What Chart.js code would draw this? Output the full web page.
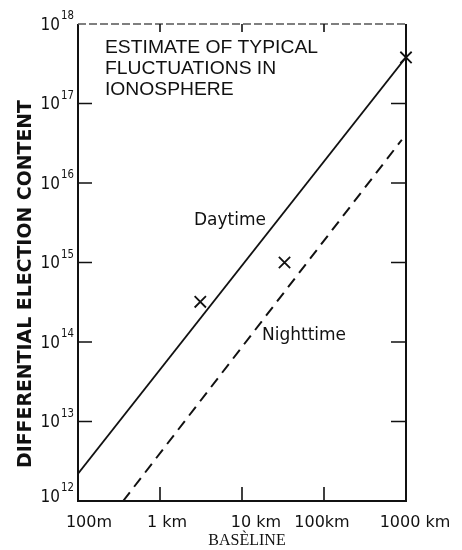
<!DOCTYPE html>
<html>
<head>
<meta charset="utf-8">
<script src="https://cdn.jsdelivr.net/npm/chart.js@4/dist/chart.umd.min.js"></script>
<style>
html,body{margin:0;padding:0;background:#fff;}
#wrap{width:462px;height:550px;position:relative;}
</style>
</head>
<body>
<div id="wrap"><canvas id="c" width="462" height="550"></canvas></div>
<script>
// ---- data ----
const xTickValues = [0.1, 1, 10, 100, 1000];          // km
const xTickLabels = ['100m', '1 km', '10 km', '100km', '1000 km'];
const yTickExponents = [12, 13, 14, 15, 16, 17, 18];
const daytimeX = [0.1, 1000];
const daytimeY = [2.2e12, 3.8e17];
const nighttimeX = [0.355, 890];
const nighttimeY = [1e12, 3.5e16];
const markerX = [3.1, 33, 1000];
const markerY = [3.2e14, 1e15, 3.8e17];
const titleLines = ['ESTIMATE OF TYPICAL', 'FLUCTUATIONS IN', 'IONOSPHERE'];
const yAxisTitle = 'DIFFERENTIAL ELECTION CONTENT';
const xAxisTitle = 'BASÈLINE';
const daytimeLabel = 'Daytime';
const nighttimeLabel = 'Nighttime';

const toPts = (xs, ys) => xs.map((x, i) => ({x: x, y: ys[i]}));

const decor = {
  id: 'decor',
  afterDatasetsDraw(chart) {
    const ctx = chart.ctx, a = chart.chartArea;
    const xs = chart.scales.x, ys = chart.scales.y;
    ctx.save();
    // frame
    ctx.strokeStyle = '#111';
    ctx.lineWidth = 2;
    ctx.beginPath();
    ctx.moveTo(a.left, a.top); ctx.lineTo(a.left, a.bottom);
    ctx.lineTo(a.right, a.bottom); ctx.lineTo(a.right, a.top);
    ctx.stroke();
    ctx.strokeStyle = '#555';
    ctx.lineWidth = 1.3;
    ctx.setLineDash([8, 3]);
    ctx.beginPath();
    ctx.moveTo(a.left, a.top); ctx.lineTo(a.right, a.top);
    ctx.stroke();
    ctx.setLineDash([]);
    // inside ticks
    ctx.strokeStyle = '#111';
    ctx.lineWidth = 1.6;
    yTickExponents.forEach(e => {
      const py = ys.getPixelForValue(Math.pow(10, e));
      if (e === 12 || e === 18) return;
      ctx.beginPath();
      ctx.moveTo(a.left, py); ctx.lineTo(a.left + 14, py);
      ctx.moveTo(a.right, py); ctx.lineTo(a.right - 15, py);
      ctx.stroke();
    });
    xTickValues.forEach(v => {
      if (v === xTickValues[0] || v === xTickValues[xTickValues.length - 1]) return;
      const px = xs.getPixelForValue(v);
      ctx.beginPath();
      ctx.moveTo(px, a.bottom); ctx.lineTo(px, a.bottom - 14);
      ctx.moveTo(px, a.top); ctx.lineTo(px, a.top + 8);
      ctx.stroke();
    });
    ctx.restore();
  },
  afterDraw(chart) {
    const ctx = chart.ctx, a = chart.chartArea;
    const xs = chart.scales.x, ys = chart.scales.y;
    ctx.save();
    ctx.fillStyle = '#111';
    // y tick labels: 10^n
    yTickExponents.forEach(e => {
      let py = ys.getPixelForValue(Math.pow(10, e));
      if (e === 12) py -= 5;
      ctx.textBaseline = 'middle';
      ctx.save();
      ctx.translate(a.left - 18, py + 1);
      ctx.scale(0.85, 1);
      ctx.font = '18px "DejaVu Sans"';
      ctx.textAlign = 'right';
      ctx.fillText('10', 0, 0);
      ctx.restore();
      ctx.save();
      ctx.translate(a.left - 17, py - 8);
      ctx.scale(0.85, 1);
      ctx.font = '12px "DejaVu Sans"';
      ctx.textAlign = 'left';
      ctx.fillText(String(e), 0, 0);
      ctx.restore();
    });
    // x tick labels
    const xOff = [11, 7, 14, -2, 9];
    ctx.font = '16px "DejaVu Sans"';
    ctx.textAlign = 'center';
    ctx.textBaseline = 'middle';
    xTickValues.forEach((v, i) => {
      ctx.fillText(xTickLabels[i], xs.getPixelForValue(v) + xOff[i], a.bottom + 22);
    });
    // x axis title
    ctx.font = '16px "Liberation Serif"';
    ctx.fillText(xAxisTitle, 247, 541);
    // y axis title
    ctx.save();
    ctx.translate(26, 284);
    ctx.rotate(-Math.PI / 2);
    ctx.font = 'bold 19px "DejaVu Sans"';
    const w = ctx.measureText(yAxisTitle).width;
    ctx.scale(368 / w, 1);
    ctx.fillText(yAxisTitle, 0, 0);
    ctx.restore();
    // title block
    ctx.font = '18px "Liberation Sans"';
    ctx.textAlign = 'left';
    ctx.textBaseline = 'alphabetic';
    const w1 = ctx.measureText(titleLines[0]).width;
    const sx = 213 / w1;
    const base = [53, 74, 95];
    titleLines.forEach((t, i) => {
      ctx.save();
      ctx.translate(105, base[i]);
      ctx.scale(sx, 1);
      ctx.fillText(t, 0, 0);
      ctx.restore();
    });
    // series labels
    ctx.font = '500 17px "DejaVu Sans"';
    ctx.textBaseline = 'middle';
    ctx.fillText(daytimeLabel, 194, 221);
    ctx.fillText(nighttimeLabel, 262, 336);
    ctx.restore();
  }
};

new Chart(document.getElementById('c'), {
  type: 'scatter',
  data: {
    datasets: [
      {label: 'Daytime', data: toPts(daytimeX, daytimeY), showLine: true,
       borderColor: '#111', borderWidth: 1.8, pointRadius: 0, fill: false},
      {label: 'Nighttime', data: toPts(nighttimeX, nighttimeY), showLine: true,
       borderColor: '#111', borderWidth: 2, borderDash: [11, 7], pointRadius: 0, fill: false},
      {label: 'Estimates', data: toPts(markerX, markerY), showLine: false,
       pointStyle: 'crossRot', pointRadius: 8, pointBorderWidth: 1.8,
       pointBorderColor: '#111', borderColor: '#111', clip: false}
    ]
  },
  options: {
    responsive: false,
    animation: false,
    devicePixelRatio: 1,
    layout: {padding: {left: 78, right: 56, top: 24, bottom: 49}},
    plugins: {legend: {display: false}, tooltip: {enabled: false}},
    scales: {
      x: {type: 'logarithmic', min: 0.1, max: 1000, display: false},
      y: {type: 'logarithmic', min: 1e12, max: 1e18, display: false}
    }
  },
  plugins: [decor]
});
</script>
</body>
</html>
